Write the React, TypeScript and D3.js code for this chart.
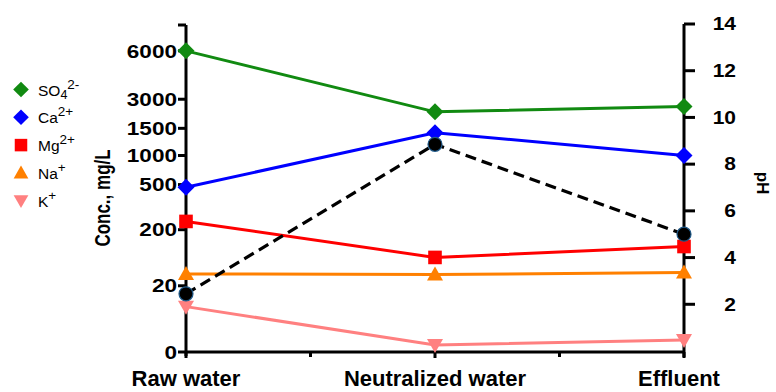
import React from "react";
import * as d3 from "d3";

const categories = ["Raw water", "Neutralized water", "Effluent"];
const so4 = [6000, 2350, 2620];
const ca = [482, 1420, 1000];
const mg = [255, 111, 146];
const na = [58, 56, 63];
const k = [13.7, 2.1, 3.6];
const ph = [2.45, 8.85, 5.0];

const leftTicks = [0, 20, 200, 500, 1000, 1500, 3000, 6000];
const leftTickFrac = [0, 0.2025, 0.374, 0.512, 0.601, 0.684, 0.773, 0.921];
const rightTicks = [2, 4, 6, 8, 10, 12, 14];

const W = 776, H = 392;
const X0 = 186, X1 = 684, TOP = 25, BOTTOM = 352;
const FONT = "Liberation Sans, Arial, sans-serif";

type Sym = "diamond" | "square" | "triangle" | "triangleDown" | "circle";

function Marker({ x, y, sym, color, size = 1 }: { x: number; y: number; sym: Sym; color: string; size?: number }) {
  const s = size;
  if (sym === "diamond") {
    const r = 8.5 * s;
    return <path d={`M${x},${y - r}L${x + r},${y}L${x},${y + r}L${x - r},${y}Z`} fill={color} />;
  }
  if (sym === "square") {
    const r = 6.8 * s;
    return <rect x={x - r} y={y - r} width={2 * r} height={2 * r} fill={color} />;
  }
  if (sym === "triangle") {
    const r = 8 * s;
    return <path d={`M${x},${y - r}L${x + r},${y + r * 0.75}L${x - r},${y + r * 0.75}Z`} fill={color} />;
  }
  if (sym === "triangleDown") {
    const r = 8 * s;
    return <path d={`M${x},${y + r}L${x + r},${y - r * 0.75}L${x - r},${y - r * 0.75}Z`} fill={color} />;
  }
  return <circle cx={x} cy={y} r={7 * s} fill="#000" stroke="#1f5a8a" strokeWidth={1.2} />;
}

export default function App() {
  const x = d3.scalePoint<string>().domain(categories).range([X0, X1]);
  const yL = d3
    .scaleLinear()
    .domain(leftTicks)
    .range(leftTickFrac.map((f) => BOTTOM - f * (BOTTOM - TOP)));
  const yR = d3.scaleLinear().domain([0, 14]).range([BOTTOM - 1, TOP - 1]);

  const series = [
    { name: "SO4", values: so4, color: "#118a11", sym: "diamond" as Sym },
    { name: "Ca", values: ca, color: "#0000ff", sym: "diamond" as Sym },
    { name: "Mg", values: mg, color: "#ff0000", sym: "square" as Sym },
    { name: "Na", values: na, color: "#ff8000", sym: "triangle" as Sym },
    { name: "K", values: k, color: "#ff8080", sym: "triangleDown" as Sym },
  ];

  const line = d3
    .line<number>()
    .x((_, i) => x(categories[i])!)
    .y((d) => yL(d));
  const phLine = d3
    .line<number>()
    .x((_, i) => x(categories[i])!)
    .y((d) => yR(d));

  const minorTicks = categories.slice(0, -1).map((c, i) => (x(c)! + x(categories[i + 1])!) / 2);

  const legendItems = [
    { sym: "diamond" as Sym, color: "#118a11", label: ["SO", "4", "2-"] },
    { sym: "diamond" as Sym, color: "#0000ff", label: ["Ca", "", "2+"] },
    { sym: "square" as Sym, color: "#ff0000", label: ["Mg", "", "2+"] },
    { sym: "triangle" as Sym, color: "#ff8000", label: ["Na", "", "+"] },
    { sym: "triangleDown" as Sym, color: "#ff8080", label: ["K", "", "+"] },
  ];

  const catX = (c: string, i: number) => x(c)! + (i === categories.length - 1 ? -5 : 0);

  return (
    <svg width={W} height={H} style={{ position: "absolute", left: 0, top: 0, background: "#fff" }} fontFamily={FONT}>
      {/* series lines */}
      {series.map((s) => (
        <path key={s.name} d={line(s.values)!} fill="none" stroke={s.color} strokeWidth={3} />
      ))}
      <path d={phLine(ph)!} fill="none" stroke="#000" strokeWidth={3.2} strokeDasharray="11,6" />

      {/* axes */}
      <g stroke="#000" strokeWidth={3} fill="none">
        <line x1={X0} y1={TOP} x2={X0} y2={BOTTOM + 4} />
        <line x1={X0 - 8} y1={TOP} x2={X0} y2={TOP} />
        <line x1={X1} y1={TOP - 1} x2={X1} y2={BOTTOM + 5} />
        <line x1={X0 - 1} y1={BOTTOM} x2={X1 + 1} y2={BOTTOM} />
        {leftTicks.map((t) => (
          <line key={t} x1={X0 - 8} y1={yL(t)} x2={X0} y2={yL(t)} />
        ))}
        {rightTicks.map((t) => (
          <line key={t} x1={X1} y1={yR(t)} x2={X1 + 11} y2={yR(t)} />
        ))}
        {categories.map((c) => (
          <line key={c} x1={x(c)!} y1={BOTTOM} x2={x(c)!} y2={BOTTOM + 6} />
        ))}
        {minorTicks.map((m, i) => (
          <line key={i} x1={m} y1={BOTTOM} x2={m} y2={BOTTOM + 5} />
        ))}
      </g>

      {/* markers */}
      {series.map((s) =>
        s.values.map((v, i) => <Marker key={s.name + i} x={x(categories[i])!} y={yL(v)} sym={s.sym} color={s.color} />)
      )}
      {ph.map((v, i) => (
        <Marker key={"ph" + i} x={x(categories[i])!} y={yR(v)} sym="circle" color="#000" />
      ))}

      {/* tick labels */}
      <g fontWeight="bold" fill="#000">
        {leftTicks.map((t) => (
          <text
            key={t}
            transform={`translate(${X0 - 9},${yL(t)}) scale(1.22,1)`}
            dy="0.36em"
            textAnchor="end"
            fontSize={18.5}
          >
            {t}
          </text>
        ))}
        {rightTicks.map((t) => (
          <text
            key={t}
            transform={`translate(736,${yR(t)}) scale(1.2,1)`}
            dy="0.36em"
            textAnchor="end"
            fontSize={17.5}
          >
            {t}
          </text>
        ))}
        {categories.map((c, i) => (
          <text key={c} x={catX(c, i)} y={386} textAnchor="middle" fontSize={22}>
            {c}
          </text>
        ))}
        <text transform="translate(110,198) rotate(-90) scale(1,1.3)" textAnchor="middle" fontSize={17}>
          Conc., mg/L
        </text>
        <text transform="translate(757,183) rotate(90)" textAnchor="middle" fontSize={17}>
          pH
        </text>
      </g>

      {/* legend */}
      <g fontSize={15.5} fill="#000">
        {legendItems.map((it, i) => {
          const ly = 89.5 + i * 27.8;
          return (
            <g key={i}>
              <Marker x={21} y={ly} sym={it.sym} color={it.color} size={0.92} />
              <text x={38} y={ly + 6}>
                {it.label[0]}
                {it.label[1] ? (
                  <tspan dy={3} fontSize={12.5}>
                    {it.label[1]}
                  </tspan>
                ) : null}
                <tspan dy={it.label[1] ? -10 : -7} fontSize={13.5}>
                  {it.label[2]}
                </tspan>
              </text>
            </g>
          );
        })}
      </g>
    </svg>
  );
}
